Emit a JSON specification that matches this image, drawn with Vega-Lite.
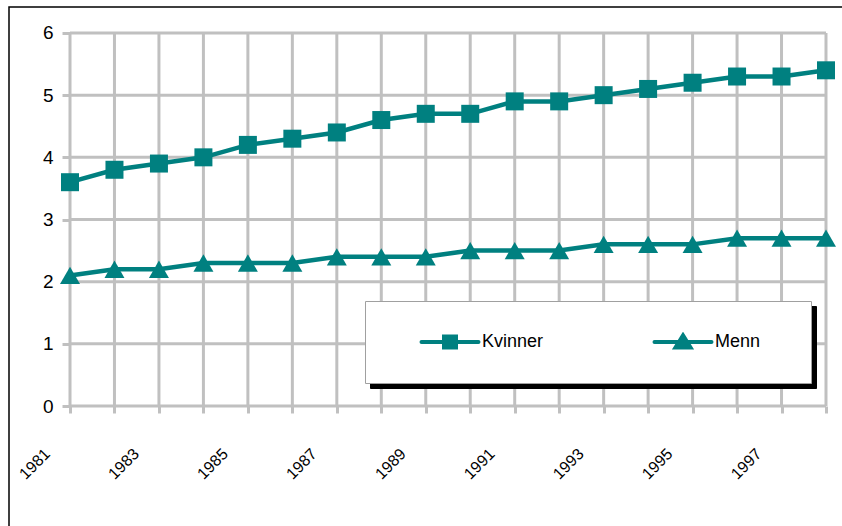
{
  "$schema": "https://vega.github.io/schema/vega-lite/v6.json",
  "width": 833,
  "height": 519,
  "autosize": {"type": "none"},
  "padding": {"left": 9, "top": 7, "right": 0, "bottom": 0},
  "background": "#ffffff",
  "config": {
    "font": "Liberation Sans",
    "view": {"stroke": "#000000", "strokeWidth": 1.5, "strokeDash": [833, 1352, 519]}
  },
  "datasets": {
    "series": [
      {"year": 1981, "serie": "Kvinner", "value": 3.6},
      {"year": 1982, "serie": "Kvinner", "value": 3.8},
      {"year": 1983, "serie": "Kvinner", "value": 3.9},
      {"year": 1984, "serie": "Kvinner", "value": 4.0},
      {"year": 1985, "serie": "Kvinner", "value": 4.2},
      {"year": 1986, "serie": "Kvinner", "value": 4.3},
      {"year": 1987, "serie": "Kvinner", "value": 4.4},
      {"year": 1988, "serie": "Kvinner", "value": 4.6},
      {"year": 1989, "serie": "Kvinner", "value": 4.7},
      {"year": 1990, "serie": "Kvinner", "value": 4.7},
      {"year": 1991, "serie": "Kvinner", "value": 4.9},
      {"year": 1992, "serie": "Kvinner", "value": 4.9},
      {"year": 1993, "serie": "Kvinner", "value": 5.0},
      {"year": 1994, "serie": "Kvinner", "value": 5.1},
      {"year": 1995, "serie": "Kvinner", "value": 5.2},
      {"year": 1996, "serie": "Kvinner", "value": 5.3},
      {"year": 1997, "serie": "Kvinner", "value": 5.3},
      {"year": 1998, "serie": "Kvinner", "value": 5.4},
      {"year": 1981, "serie": "Menn", "value": 2.1},
      {"year": 1982, "serie": "Menn", "value": 2.2},
      {"year": 1983, "serie": "Menn", "value": 2.2},
      {"year": 1984, "serie": "Menn", "value": 2.3},
      {"year": 1985, "serie": "Menn", "value": 2.3},
      {"year": 1986, "serie": "Menn", "value": 2.3},
      {"year": 1987, "serie": "Menn", "value": 2.4},
      {"year": 1988, "serie": "Menn", "value": 2.4},
      {"year": 1989, "serie": "Menn", "value": 2.4},
      {"year": 1990, "serie": "Menn", "value": 2.5},
      {"year": 1991, "serie": "Menn", "value": 2.5},
      {"year": 1992, "serie": "Menn", "value": 2.5},
      {"year": 1993, "serie": "Menn", "value": 2.6},
      {"year": 1994, "serie": "Menn", "value": 2.6},
      {"year": 1995, "serie": "Menn", "value": 2.6},
      {"year": 1996, "serie": "Menn", "value": 2.7},
      {"year": 1997, "serie": "Menn", "value": 2.7},
      {"year": 1998, "serie": "Menn", "value": 2.7}
    ],
    "xgrid": [
      {"year": 1981}, {"year": 1982}, {"year": 1983}, {"year": 1984}, {"year": 1985}, {"year": 1986},
      {"year": 1987}, {"year": 1988}, {"year": 1989}, {"year": 1990}, {"year": 1991}, {"year": 1992},
      {"year": 1993}, {"year": 1994}, {"year": 1995}, {"year": 1996}, {"year": 1997}, {"year": 1998}
    ],
    "ygrid": [
      {"level": 0}, {"level": 1}, {"level": 2}, {"level": 3}, {"level": 4}, {"level": 5}, {"level": 6}
    ]
  },
  "layer": [
    {
      "data": {"name": "xgrid"},
      "mark": {"type": "rule", "stroke": "#c0c0c0", "strokeWidth": 3},
      "encoding": {
        "x": {
          "field": "year",
          "type": "quantitative",
          "scale": {"domain": [1979.6283, 1998.3598], "nice": false, "zero": false},
          "axis": {
            "orient": "bottom",
            "offset": -120,
            "values": [1981, 1982, 1983, 1984, 1985, 1986, 1987, 1988, 1989, 1990, 1991, 1992, 1993, 1994, 1995, 1996, 1997, 1998],
            "format": "d",
            "labelExpr": "datum.value % 2 == 1 ? datum.label : ''",
            "grid": false,
            "domain": false,
            "tickSize": 7,
            "tickColor": "#c0c0c0",
            "tickWidth": 3,
            "labelAngle": -45,
            "labelAlign": "right",
            "labelBaseline": "middle",
            "labelFont": "Liberation Sans",
            "labelFontSize": 16,
            "labelColor": "#000000",
            "labelPadding": 38,
            "labelOffset": -23,
            "labelOverlap": false,
            "labelFlush": false,
            "title": null
          }
        },
        "y": {"datum": 0, "type": "quantitative"},
        "y2": {"datum": 6}
      }
    },
    {
      "data": {"name": "ygrid"},
      "mark": {"type": "rule", "stroke": "#c0c0c0", "strokeWidth": 3},
      "encoding": {
        "y": {
          "field": "level",
          "type": "quantitative",
          "scale": {"domain": [-1.93029, 6.41823], "nice": false, "zero": false},
          "axis": {
            "orient": "left",
            "offset": -61,
            "values": [0, 1, 2, 3, 4, 5, 6],
            "format": "d",
            "grid": false,
            "domain": false,
            "tickSize": 8,
            "tickColor": "#c0c0c0",
            "tickWidth": 3,
            "labelFont": "Liberation Sans",
            "labelFontSize": 19,
            "labelColor": "#000000",
            "labelPadding": 9,
            "labelBaseline": "middle",
            "labelFlush": false,
            "labelOverlap": false,
            "title": null
          }
        },
        "x": {"datum": 1981, "type": "quantitative"},
        "x2": {"datum": 1998}
      }
    },
    {
      "data": {"name": "series"},
      "mark": {"type": "line", "opacity": 0},
      "encoding": {
        "x": {"field": "year", "type": "quantitative"},
        "y": {"field": "value", "type": "quantitative"},
        "color": {
          "field": "serie",
          "type": "nominal",
          "scale": {"domain": ["Kvinner", "Menn"], "range": ["#000000", "#000000"]},
          "legend": {
            "orient": "none",
            "legendX": 361,
            "legendY": 299,
            "direction": "horizontal",
            "title": null,
            "fillColor": "#000000",
            "strokeColor": "#000000",
            "padding": 31,
            "clipHeight": 20,
            "columnPadding": 348,
            "symbolSize": 1,
            "symbolOffset": 0,
            "symbolOpacity": 0,
            "labelOffset": 0,
            "labelExpr": "''",
            "labelFontSize": 18
          }
        }
      }
    },
    {
      "data": {"name": "series"},
      "mark": {"type": "line", "opacity": 0},
      "encoding": {
        "x": {"field": "year", "type": "quantitative"},
        "y": {"field": "value", "type": "quantitative"},
        "color": {
          "field": "serie",
          "type": "nominal",
          "scale": {"domain": ["Kvinner", "Menn"], "range": ["#ffffff", "#ffffff"]},
          "legend": {
            "orient": "none",
            "legendX": 356,
            "legendY": 294,
            "direction": "horizontal",
            "title": null,
            "fillColor": "#ffffff",
            "strokeColor": "#a0a0a0",
            "padding": 31,
            "clipHeight": 20,
            "columnPadding": 348,
            "symbolSize": 1,
            "symbolOffset": 0,
            "symbolOpacity": 0,
            "labelOffset": 0,
            "labelExpr": "''",
            "labelFontSize": 18
          }
        }
      }
    },
    {
      "data": {"name": "series"},
      "encoding": {
        "x": {"field": "year", "type": "quantitative"},
        "y": {"field": "value", "type": "quantitative"}
      },
      "layer": [
        {
          "mark": {"type": "line", "strokeWidth": 4.5, "color": "#008080"},
          "encoding": {
            "color": {
              "field": "serie",
              "type": "nominal",
              "scale": {"domain": ["Kvinner", "Menn"], "range": ["#008080", "#008080"]},
              "legend": {
                "orient": "none",
                "legendX": 356,
                "legendY": 294,
                "direction": "horizontal",
                "title": null,
                "padding": 31,
                "clipHeight": 20,
                "columnPadding": 85,
                "gridAlign": "all",
                "symbolSize": 3600,
                "symbolOffset": 22,
                "labelOffset": 0,
                "labelFont": "Liberation Sans",
                "labelFontSize": 18,
                "labelColor": "#000000",
                "labelLimit": 300,
                "encode": {
                  "symbols": {
                    "update": {
                      "shape": {"signal": "datum.value == 'Kvinner' ? 'M-0.95,0H0.95M-0.2,-0.18H0.2V0.18H-0.2Z' : 'M-0.95,0H0.95M0,-0.22L0.25,0.18L-0.25,0.18Z'"},
                      "fill": {"value": "#008080"},
                      "stroke": {"value": "#008080"},
                      "strokeWidth": {"value": 4},
                      "strokeCap": {"value": "round"},
                      "opacity": {"value": 1}
                    }
                  }
                }
              }
            }
          }
        },
        {
          "mark": {"type": "point", "filled": true, "opacity": 1},
          "encoding": {
            "color": {
              "field": "serie",
              "type": "nominal",
              "scale": {"domain": ["Kvinner", "Menn"], "range": ["#008080", "#008080"]}
            },
            "shape": {
              "field": "serie",
              "type": "nominal",
              "scale": {"domain": ["Kvinner", "Menn"], "range": ["square", "triangle-up"]},
              "legend": null
            },
            "size": {
              "field": "serie",
              "type": "nominal",
              "scale": {"domain": ["Kvinner", "Menn"], "range": [324, 400]},
              "legend": null
            }
          }
        }
      ]
    }
  ],
  "resolve": {"scale": {"color": "independent"}}
}
